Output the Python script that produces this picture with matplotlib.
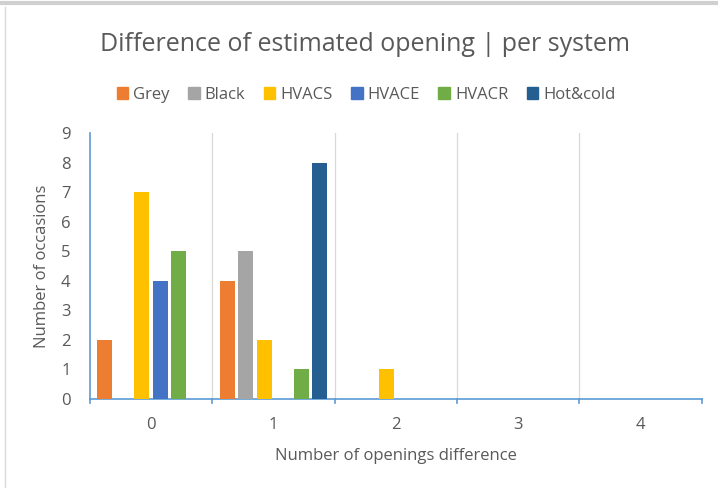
import numpy as np
import matplotlib
matplotlib.use("Agg")
from matplotlib import pyplot as plt
from matplotlib.lines import Line2D

categories = ['0', '1', '2', '3', '4']
series_names = ['Grey', 'Black', 'HVACS', 'HVACE', 'HVACR', 'Hot&cold']
grey = [2, 4, 0, 0, 0]
black = [0, 5, 0, 0, 0]
hvacs = [7, 2, 1, 0, 0]
hvace = [4, 0, 0, 0, 0]
hvacr = [5, 1, 0, 0, 0]
hot_cold = [0, 8, 0, 0, 0]
colors = ['#ED7D31', '#A5A5A5', '#FFC000', '#4472C4', '#70AD47', '#255E91']

plt.rcParams['font.family'] = ['Open Sans', 'DejaVu Sans']
text_col = '#595959'
axis_col = '#5B9BD5'

fig = plt.figure(figsize=(7.18, 4.88), dpi=100)
ax = fig.add_axes([0.1253, 0.1824, 0.852, 0.545])

x = np.arange(len(categories))
step = 0.151
width = 0.122
all_series = [grey, black, hvacs, hvace, hvacr, hot_cold]
for i, (name, vals, c) in enumerate(zip(series_names, all_series, colors)):
    ax.bar(x + (i - 2.5) * step, vals, width, color=c, label=name, zorder=3)

ax.set_xlim(-0.5, 4.5)
ax.set_ylim(0, 9)
ax.set_yticks(range(10))
ax.set_xticks(x)
ax.set_xticklabels(categories)

for b in np.arange(0.5, 4.5, 1):
    ax.axvline(b, color='#D9D9D9', lw=0.9, zorder=1)

for s in ['top', 'right']:
    ax.spines[s].set_visible(False)
ax.spines['left'].set_color(axis_col)
ax.spines['bottom'].set_color(axis_col)
ax.spines['left'].set_linewidth(1.2)
ax.spines['bottom'].set_linewidth(1.2)

ax.tick_params(axis='y', length=0, labelsize=12, labelcolor=text_col, pad=14)
ax.tick_params(axis='x', length=0, labelsize=12, labelcolor=text_col, pad=13)
for b in np.arange(-0.5, 5.0, 1):
    ax.plot([b, b], [0, -0.15], color=axis_col, lw=1.2, clip_on=False, zorder=4)

ax.set_xlabel('Number of openings difference', fontsize=12, color=text_col, labelpad=11)
ax.set_ylabel('Number of occasions', fontsize=12, color=text_col, labelpad=8)

fig.text(0.508, 0.909, 'Difference of estimated opening | per system', ha='center', va='center',
         fontsize=18, color=text_col)

handles = [plt.Rectangle((0, 0), 1, 1, color=c) for c in colors]
fig.legend(handles, series_names, loc='center', bbox_to_anchor=(0.51, 0.806), ncol=6, frameon=False,
           fontsize=12, labelcolor=text_col, handlelength=0.7, handleheight=0.7,
           handletextpad=0.3, columnspacing=1.1)

# screenshot border
fig.add_artist(Line2D([0, 1], [0.993, 0.993], color='#D0D0D0', lw=3, transform=fig.transFigure))
fig.add_artist(Line2D([0.007, 0.007], [0, 0.985], color='#D9D9D9', lw=1, transform=fig.transFigure))

fig.savefig('out.png', dpi=100)
